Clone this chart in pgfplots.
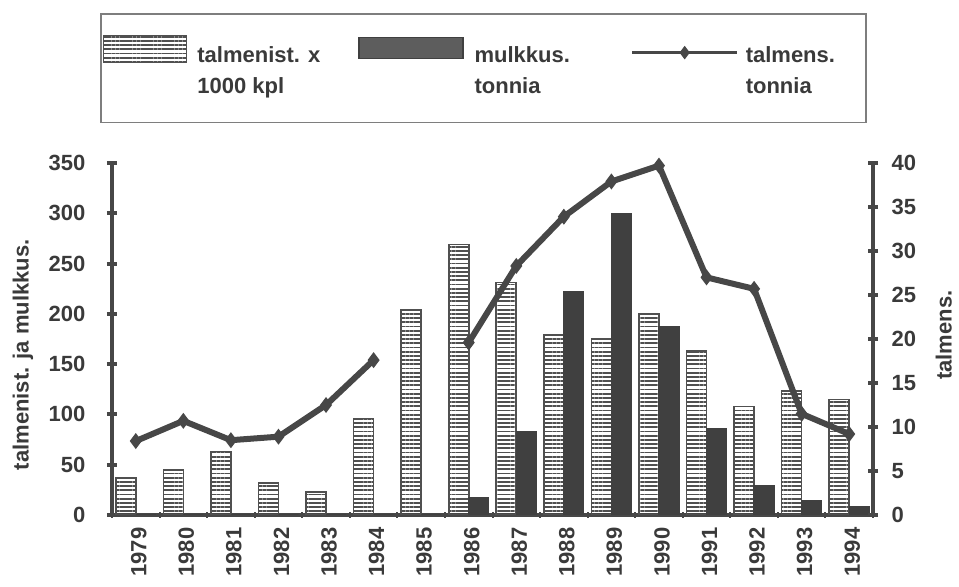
\documentclass[border=0pt]{standalone}
\usepackage{fontspec}
\setmainfont{Liberation Sans}
\usepackage{pgfplots}
\pgfplotsset{compat=1.18}
\usetikzlibrary{patterns.meta}
\definecolor{axc}{HTML}{474747}
\definecolor{txt}{HTML}{3A3A3A}
\definecolor{dark}{HTML}{404040}
\definecolor{stripe}{HTML}{505050}
\newcommand{\ff}{\fontsize{11pt}{13pt}\selectfont\bfseries}
\pgfplotsset{
  stripelegend/.style={legend image code/.code={\draw[draw=stripe, line width=0.8pt, pattern={Lines[angle=0,distance=2.1pt,line width=0.9pt]}, pattern color=stripe] (0pt,0pt) rectangle (41.5pt,13.5pt);}},
  darklegend/.style={legend image code/.code={\draw[draw=dark, fill=dark!85, line width=0.6pt] (0pt,2pt) rectangle (52pt,12.5pt);}},
  linelegend/.style={legend image code/.code={\draw[##1, sharp plot, mark repeat=2, mark phase=2] plot coordinates {(0pt,5pt) (26.25pt,5pt) (52.5pt,5pt)};}},
}

\begin{document}
\ff
\begin{tikzpicture}
\begin{axis}[
  at={(0,0)}, anchor=south west,
  scale only axis, width=380.5pt, height=176pt,
  xmin=-0.5, xmax=15.5, ymin=0, ymax=350,
  axis x line*=bottom, axis y line*=left,
  axis line style={-, line width=2pt, draw=axc},
  ybar=0pt, bar width=10pt,
  xtick={0,...,15},
  xticklabels={1979,1980,1981,1982,1983,1984,1985,1986,1987,1988,1989,1990,1991,1992,1993,1994},
  x tick label style={rotate=90, anchor=east, text=txt, font=\ff, yshift=-1.5pt},
  major x tick style={draw=none},
  minor xtick={-0.5,0.5,...,15.5},
  minor x tick style={draw=axc, line width=1pt},
  minor tick length=3pt,
  ytick={0,50,...,350},
  y tick style={draw=axc, line width=2pt},
  major tick length=5pt,
  tick align=center,
  y tick label style={text=txt, font=\ff, xshift=-7pt},
  /pgf/number format/assume math mode=true,
  ylabel={talmenist. ja mulkkus.},
  every axis y label/.style={at={(axis description cs:-0.117,0.455)}, rotate=90, anchor=center, text=txt, font=\ff},
  legend columns=3,
  legend style={
    at={(axis description cs:-0.0158,1.426)}, anchor=north west,
    draw=axc!70, line width=0.8pt, fill=white,
    inner xsep=1pt, inner ysep=10.5pt,
    column sep=0pt,
    cells={anchor=base west},
    nodes={inner sep=0pt, text depth=, text=txt},
    font=\ff,
  },
]
\addplot[draw=stripe, line width=0.8pt, pattern={Lines[angle=0,distance=2.1pt,line width=0.9pt]}, pattern color=stripe, stripelegend]
coordinates {(0,37) (1,45) (2,63) (3,32) (4,23) (5,96) (6,204) (7,269) (8,231) (9,179) (10,175) (11,200) (12,163) (13,108) (14,123) (15,115)};
\addlegendentry{\makebox[85.5pt][l]{\hspace*{5pt}\begin{tabular}[t]{@{}l@{}}talmenist. x\\[2.5pt]1000 kpl\end{tabular}}}
\addplot[draw=dark, line width=0.6pt, fill=dark, darklegend]
coordinates {(0,0) (1,0) (2,0) (3,0) (4,0) (5,0) (6,0) (7,17) (8,83) (9,222) (10,300) (11,187) (12,86) (13,29) (14,14) (15,8)};
\addlegendentry{\makebox[83.5pt][l]{\hspace*{5.5pt}\begin{tabular}[t]{@{}l@{}}mulkkus.\\[2.5pt]tonnia\end{tabular}}}
\addlegendimage{color=axc, line width=1.6pt, mark=diamond*, mark size=3pt, mark options={line width=0.5pt, fill=axc}, linelegend}
\addlegendentry{\makebox[62.5pt][l]{\hspace*{3.5pt}\begin{tabular}[t]{@{}l@{}}talmens.\\[2.5pt]tonnia\end{tabular}}}
\end{axis}
\begin{axis}[
  at={(0,0)}, anchor=south west,
  scale only axis, width=380.5pt, height=176pt,
  xmin=-0.5, xmax=15.5, ymin=0, ymax=40,
  axis y line*=right, axis x line=none,
  axis line style={-, line width=2pt, draw=axc},
  ytick={0,5,...,40},
  y tick style={draw=axc, line width=2pt},
  major tick length=5pt,
  tick align=center,
  y tick label style={text=txt, font=\ff, xshift=3pt},
  /pgf/number format/assume math mode=true,
  ylabel={talmens.},
  every axis y label/.style={at={(axis description cs:1.093,0.511)}, rotate=90, anchor=center, text=txt, font=\ff},
  unbounded coords=jump,
]
\addplot[color=axc, line width=3pt, mark=diamond*, mark size=3.6pt, mark options={fill=axc, line width=0.5pt}]
coordinates {(0,8.4) (1,10.7) (2,8.5) (3,8.9) (4,12.5) (5,17.6) (6,nan) (7,19.6) (8,28.3) (9,33.9) (10,37.9) (11,39.7) (12,27.0) (13,25.7) (14,11.5) (15,9.2)};
\end{axis}
\pgfresetboundingbox
\path (-56pt,-36pt) rectangle (423.5pt,257.5pt);
\end{tikzpicture}
\end{document}
